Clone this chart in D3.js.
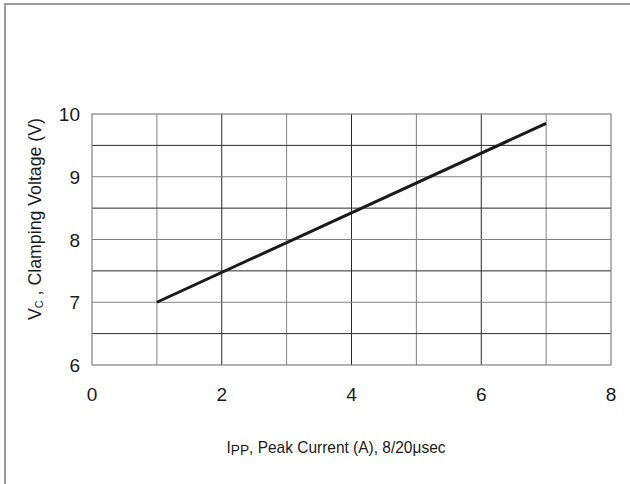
<!DOCTYPE html>
<html>
<head>
<meta charset="utf-8">
<script src="https://cdn.jsdelivr.net/npm/d3@7"></script>
<style>
  body { margin: 0; background: #fff; }
  text { font-family: "Liberation Sans", Arial, sans-serif; fill: #1a1a1a; }
</style>
</head>
<body>
<svg id="chart" width="630" height="484"></svg>
<script>
// data
const current = [1, 7];          // Ipp (A)
const voltage = [7.0, 9.85];     // Vc (V)
const xTicks = [0, 2, 4, 6, 8];
const yTicks = [6, 7, 8, 9, 10];
const xGrid = [1, 2, 3, 4, 5, 6, 7];
const yGrid = [6.5, 7, 7.5, 8, 8.5, 9, 9.5];

const svg = d3.select("#chart");
const m = { left: 92, right: 611, top: 114, bottom: 365 };

const x = d3.scaleLinear().domain([0, 8]).range([m.left, m.right]);
const y = d3.scaleLinear().domain([6, 10]).range([m.bottom, m.top]);

// outer frame (top + left only)
svg.append("path")
    .attr("d", "M5,640 L5,4 L640,4")
    .attr("fill", "none")
    .attr("stroke", "#9a9a9a")
    .attr("stroke-width", 2);

// grid
svg.append("g").selectAll("line")
    .data(xGrid)
    .join("line")
    .attr("x1", d => x(d)).attr("x2", d => x(d))
    .attr("y1", m.top).attr("y2", m.bottom)
    .attr("stroke", d => d % 2 === 0 ? "#2a2a2a" : "#808080")
    .attr("stroke-width", 1);

svg.append("g").selectAll("line")
    .data(yGrid)
    .join("line")
    .attr("x1", m.left).attr("x2", m.right)
    .attr("y1", d => y(d)).attr("y2", d => y(d))
    .attr("stroke", d => d % 1 === 0 ? "#808080" : "#2a2a2a")
    .attr("stroke-width", 1);

svg.append("rect")
    .attr("x", m.left).attr("y", m.top)
    .attr("width", m.right - m.left).attr("height", m.bottom - m.top)
    .attr("fill", "none")
    .attr("stroke", "#808080")
    .attr("stroke-width", 1.2);

// tick labels
svg.append("g").selectAll("text")
    .data(xTicks)
    .join("text")
    .attr("x", d => x(d))
    .attr("y", 401)
    .attr("text-anchor", "middle")
    .attr("font-size", 19)
    .text(d => d);

svg.append("g").selectAll("text")
    .data(yTicks)
    .join("text")
    .attr("x", 80)
    .attr("y", d => y(d) + 7)
    .attr("text-anchor", "end")
    .attr("font-size", 19)
    .text(d => d);

// curve
const line = d3.line().x((d, i) => x(current[i])).y(d => y(d));
svg.append("path")
    .datum(voltage)
    .attr("d", line)
    .attr("fill", "none")
    .attr("stroke", "#1a1a1a")
    .attr("stroke-width", 3);

// axis titles
const xt = svg.append("text")
    .attr("x", 336)
    .attr("y", 453)
    .attr("text-anchor", "middle")
    .attr("font-size", 17)
    .attr("textLength", 219)
    .attr("lengthAdjust", "spacingAndGlyphs");
xt.append("tspan").text("I");
xt.append("tspan").attr("font-size", 15).attr("dy", 2).text("PP");
xt.append("tspan").attr("dy", -2).text(", Peak Current (A), 8/20μsec");

const yt = svg.append("text")
    .attr("transform", "translate(41,219) rotate(-90)")
    .attr("text-anchor", "middle")
    .attr("font-size", 18)
    .attr("textLength", 202)
    .attr("lengthAdjust", "spacingAndGlyphs");
yt.append("tspan").text("V");
yt.append("tspan").attr("font-size", 11).attr("dy", 2).text("C");
yt.append("tspan").attr("dy", -2).text(" , Clamping Voltage (V)");
</script>
</body>
</html>
